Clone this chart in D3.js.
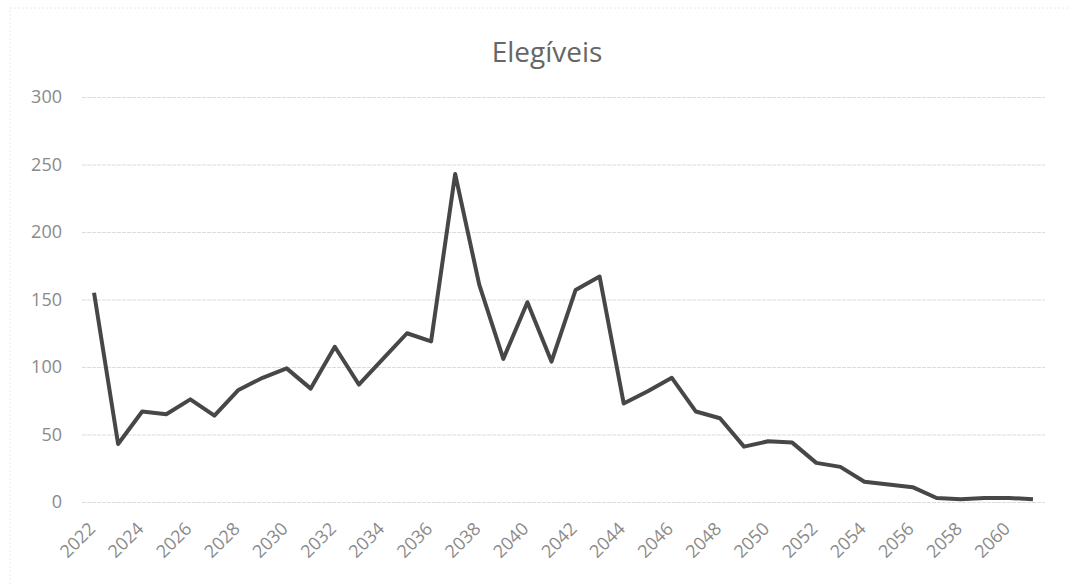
<!DOCTYPE html>
<html>
<head>
<meta charset="utf-8">
<script src="https://cdn.jsdelivr.net/npm/d3@7"></script>
<style>
body { margin: 0; background: #fff; }
text { font-family: "Open Sans", "Noto Sans", sans-serif; }
</style>
</head>
<body>
<script>
var width = 1070, height = 586;
// Data
var years = d3.range(2022, 2062);
var elegiveis = [155, 43, 67, 65, 76, 64, 83, 92, 99, 84,
	115, 87, 106, 125, 119, 243, 161, 106, 148, 104,
	157, 167, 73, 82, 92, 67, 62, 41, 45, 44,
	29, 26, 15, 13, 11, 3, 2, 3, 3, 2];
var yTicks = [0, 50, 100, 150, 200, 250, 300];
var title = 'Elegíveis';

var margin = {top: 97, right: 25, bottom: 84, left: 82};
var innerWidth = width - margin.left - margin.right;
var innerHeight = height - margin.top - margin.bottom;

var svg = d3.select('body').append('svg')
	.attr('width', width)
	.attr('height', height);
//Faint top and left border, like the scanned chart frame.
svg.append('path')
	.attr('d', 'M10,' + (height - 2) + 'V8H' + (width - 1))
	.style('fill', 'none')
	.style('stroke', '#e8e8e8')
	.style('stroke-dasharray', '2,2');

var inner = svg.append('g')
	.attr('transform', 'translate(' + margin.left + ',' + margin.top + ')');

var xScale = d3.scalePoint().domain(years).range([0, innerWidth]).padding(0.5);
var yScale = d3.scaleLinear().domain([0, 300]).range([innerHeight, 0]);

//Gridlines with labels on the left.
var yAxis = inner.append('g')
	.call(d3.axisLeft(yScale).tickValues(yTicks).tickSize(-innerWidth).tickPadding(20));
yAxis.select('.domain').remove();
yAxis.selectAll('.tick line')
	.style('stroke', '#dcdcdc')
	.style('stroke-width', 1.2)
	.style('stroke-dasharray', '4,1');
yAxis.selectAll('.tick text')
	.style('font-size', '18px')
	.style('fill', '#8a8a8a');

//Category axis, labels every second year, rotated.
var xAxis = inner.append('g')
	.attr('transform', 'translate(0,' + innerHeight + ')')
	.call(d3.axisBottom(xScale).tickValues(years.filter(function(d, i) { return i % 2 == 0; })).tickSize(0));
xAxis.select('.domain').remove();
xAxis.selectAll('.tick text')
	.style('font-size', '18px')
	.style('fill', '#8a8a8a')
	.attr('text-anchor', 'end')
	.attr('y', 0)
	.attr('dy', null)
	.attr('transform', 'translate(2,28) rotate(-45)');

var line = d3.line()
	.x(function(d, i) { return xScale(years[i]); })
	.y(function(d) { return yScale(d); });
inner.append('path')
	.datum(elegiveis)
	.attr('d', line)
	.style('fill', 'none')
	.style('stroke', '#474747')
	.style('stroke-width', 4)
	.style('stroke-linejoin', 'round');

svg.append('text')
	.attr('x', 547)
	.attr('y', 62)
	.attr('text-anchor', 'middle')
	.style('font-size', '28px')
	.style('fill', '#666')
	.text(title);
</script>
</body>
</html>
